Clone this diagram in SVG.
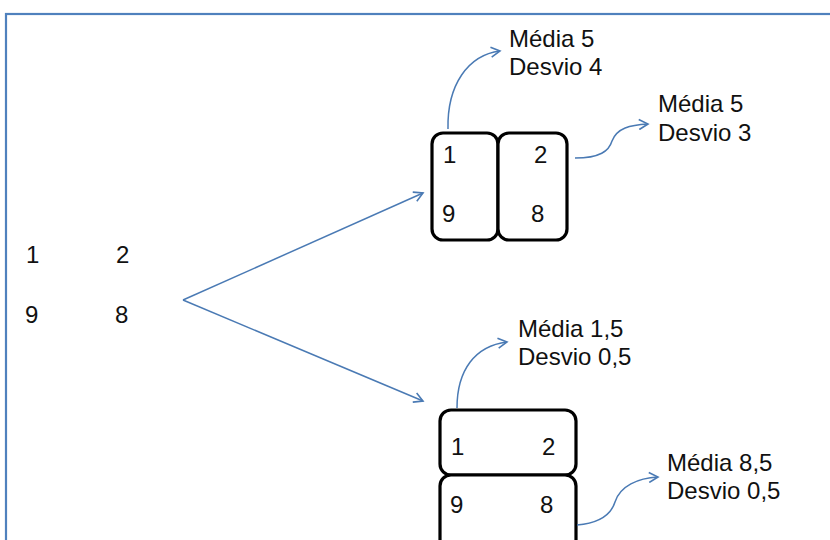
<svg xmlns="http://www.w3.org/2000/svg" width="830" height="540" viewBox="0 0 830 540">
<defs>
<marker id="ah" viewBox="0 0 12 12" refX="10" refY="6" markerWidth="12" markerHeight="12" markerUnits="userSpaceOnUse" orient="auto">
<path d="M1,1 L10,6 L1,11" fill="none" stroke="#4a7ab4" stroke-width="1.6"/>
</marker>
<style>
text{font-family:"Liberation Sans",Arial,sans-serif;fill:#111}
.d{font-size:24px}
.l{font-size:24px}
.box{fill:#fff;stroke:#000;stroke-width:3.2}
.c{fill:none;stroke:#4a7ab4;stroke-width:1.5}
</style>
</defs>
<rect x="0" y="0" width="830" height="540" fill="#fff"/>
<rect x="6" y="14" width="830" height="540" fill="none" stroke="#4f81bd" stroke-width="2.2"/>
<g id="source">
<text class="d" x="26" y="263">1</text>
<text class="d" x="116" y="263">2</text>
<text class="d" x="25" y="323">9</text>
<text class="d" x="115" y="323">8</text>
</g>
<g id="split-columns">
<rect class="box" x="432" y="133" width="66" height="107" rx="11"/>
<rect class="box" x="498" y="133" width="69" height="107" rx="11"/>
<text class="d" x="443" y="163">1</text>
<text class="d" x="534" y="163">2</text>
<text class="d" x="442" y="222">9</text>
<text class="d" x="531" y="222">8</text>
</g>
<g id="split-rows">
<rect class="box" x="440" y="410" width="136" height="65" rx="11"/>
<rect class="box" x="440" y="475" width="136" height="80" rx="11"/>
<text class="d" x="451" y="455">1</text>
<text class="d" x="542" y="455">2</text>
<text class="d" x="450" y="513">9</text>
<text class="d" x="540" y="513">8</text>
</g>
<g id="label-col1">
<text class="l" x="509" y="47">Média 5</text>
<text class="l" x="509" y="75">Desvio 4</text>
</g>
<g id="label-col2">
<text class="l" x="658" y="112">Média 5</text>
<text class="l" x="658" y="141">Desvio 3</text>
</g>
<g id="label-row1">
<text class="l" x="518" y="337">Média 1,5</text>
<text class="l" x="518" y="365">Desvio 0,5</text>
</g>
<g id="label-row2">
<text class="l" x="667" y="471">Média 8,5</text>
<text class="l" x="667" y="499">Desvio 0,5</text>
</g>
<g id="connectors">
<path class="c" d="M183,300 L423,193" marker-end="url(#ah)"/>
<path class="c" d="M183,300 L423,401" marker-end="url(#ah)"/>
<path class="c" d="M448,129 C447,85 468,55 500,51" marker-end="url(#ah)"/>
<path class="c" d="M575,158 C600,158 609,151 612,141 C617,128 630,125 648,124" marker-end="url(#ah)"/>
<path class="c" d="M457,408 C457,370 475,346 507,342" marker-end="url(#ah)"/>
<path class="c" d="M577,525 C600,523 611,515 615,502 C620,486 638,478 658,477" marker-end="url(#ah)"/>
</g>
</svg>
